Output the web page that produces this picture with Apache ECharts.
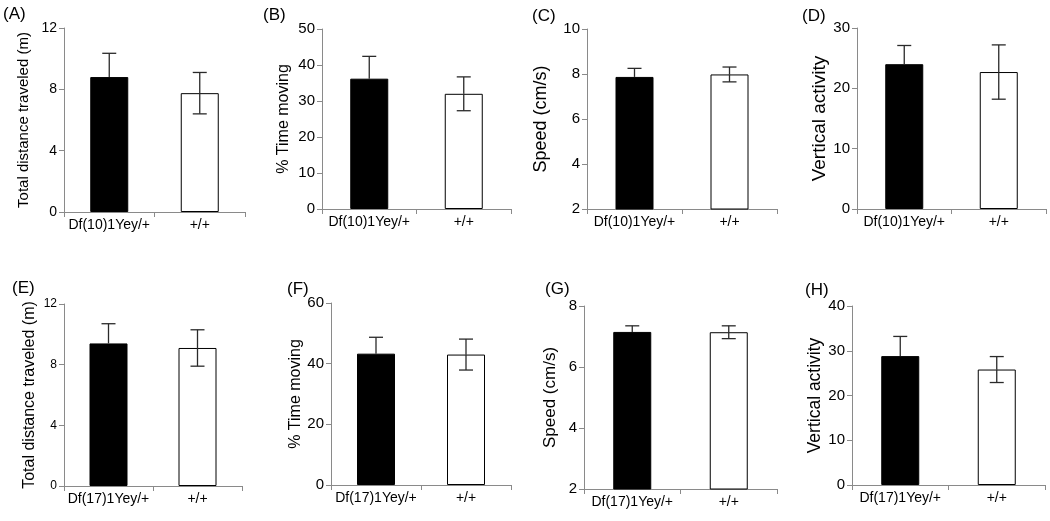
<!DOCTYPE html>
<html><head><meta charset="utf-8">
<script src="https://cdn.jsdelivr.net/npm/echarts@6/dist/echarts.min.js"></script>
<style>html,body{margin:0;padding:0;background:#fff}#c{width:1050px;height:521px}</style>
</head><body><div id="c"></div>
<script>
// ---- data ----
const catsTop = ['Df(10)1Yey/+', '+/+'];
const catsBottom = ['Df(17)1Yey/+', '+/+'];
const panelLetters = ['(A)', '(B)', '(C)', '(D)', '(E)', '(F)', '(G)', '(H)'];
const yTitles = ['Total distance traveled (m)', '% Time moving', 'Speed (cm/s)', 'Vertical activity',
                 'Total distance traveled (m)', '% Time moving', 'Speed (cm/s)', 'Vertical activity'];
const yMin = [0, 0, 2, 0, 0, 0, 2, 0];
const yMax = [12, 50, 10, 30, 12, 60, 8, 40];
const yStep = [4, 10, 2, 10, 4, 20, 2, 10];

const meanA = [8.8, 7.75];   const errA = [1.55, 1.35];
const meanB = [36.2, 32.0];  const errB = [6.2, 4.7];
const meanC = [7.87, 7.98];  const errC = [0.38, 0.33];
const meanD = [24.0, 22.7];  const errD = [3.1, 4.5];
const meanE = [9.4, 9.1];    const errE = [1.3, 1.2];
const meanF = [43.3, 43.0];  const errF = [5.4, 5.1];
const meanG = [7.15, 7.14];  const errG = [0.2, 0.21];
const meanH = [28.8, 25.8];  const errH = [4.4, 2.9];

const means = [meanA, meanB, meanC, meanD, meanE, meanF, meanG, meanH];
const errs = [errA, errB, errC, errD, errE, errF, errG, errH];

// ---- layout (pixels) ----
const grids = [
  {left: 64, top: 28, width: 181, height: 184},
  {left: 322, top: 29, width: 189, height: 180},
  {left: 587, top: 29, width: 190, height: 180},
  {left: 857, top: 28, width: 189, height: 181},
  {left: 64, top: 304, width: 178, height: 182},
  {left: 331, top: 303, width: 180, height: 182},
  {left: 584, top: 306, width: 193, height: 183},
  {left: 852, top: 306, width: 193, height: 179}
];
const nameGaps = [33, 30, 37, 25, 26, 27, 25, 28];
const nameSizes = [15, 16, 18, 19, 16, 16, 17, 17.5];
const tickSizes = [14, 15, 15, 15, 12, 15, 15, 15];
const letterPos = [[3, 6], [263, 7], [532, 8], [802, 8], [12, 280], [287, 281], [545, 281], [805, 282]];

const FONT = 'Liberation Sans, Arial, sans-serif';
const AXIS = '#8a8a8a';

const option = {
  backgroundColor: '#fff',
  animation: false,
  grid: grids.map(g => Object.assign({containLabel: false}, g)),
  xAxis: [], yAxis: [], series: [],
  graphic: panelLetters.map((t, i) => ({
    type: 'text', left: letterPos[i][0], top: letterPos[i][1],
    style: {text: t, font: '17px ' + FONT, fill: '#000'}
  }))
};

for (let i = 0; i < 8; i++) {
  const cats = i < 4 ? catsTop : catsBottom;
  option.xAxis.push({
    type: 'category', gridIndex: i, data: cats, boundaryGap: true,
    axisLine: {lineStyle: {color: AXIS, width: 1}},
    axisTick: {show: true, length: 5, lineStyle: {color: AXIS}},
    axisLabel: {color: '#000', fontFamily: FONT, fontSize: 14, margin: 6, interval: 0}
  });
  option.yAxis.push({
    type: 'value', gridIndex: i, min: yMin[i], max: yMax[i], interval: yStep[i],
    name: yTitles[i], nameLocation: 'middle', nameRotate: 90, nameGap: nameGaps[i],
    nameTextStyle: {color: '#000', fontFamily: FONT, fontSize: nameSizes[i]},
    axisLine: {show: true, lineStyle: {color: AXIS, width: 1}},
    axisTick: {show: true, length: 5, lineStyle: {color: AXIS}},
    axisLabel: {color: '#000', fontFamily: FONT, fontSize: tickSizes[i], margin: 7},
    splitLine: {show: false}
  });
  option.series.push({
    type: 'bar', xAxisIndex: i, yAxisIndex: i, barWidth: 38,
    data: means[i].map((v, k) => ({
      value: v,
      itemStyle: {color: k === 0 ? '#000' : '#fff', borderColor: '#000', borderWidth: 1}
    }))
  });
  const errData = means[i].map((v, k) => [k, v, errs[i][k]]);
  option.series.push({
    type: 'custom', xAxisIndex: i, yAxisIndex: i, z: 5,
    data: errData,
    renderItem: function (params, api) {
      const x = api.value(0), m = api.value(1), e = api.value(2);
      const hi = api.coord([x, m + e]);
      const lo = api.coord([x, m - e]);
      const mid = api.coord([x, m]);
      const cap = 7;
      const st = {stroke: '#2a2a2a', lineWidth: 1.3};
      const kids = [
        {type: 'line', shape: {x1: hi[0], y1: hi[1], x2: mid[0], y2: mid[1]}, style: st},
        {type: 'line', shape: {x1: hi[0] - cap, y1: hi[1], x2: hi[0] + cap, y2: hi[1]}, style: st}
      ];
      if (x !== 0) {
        kids.push({type: 'line', shape: {x1: mid[0], y1: mid[1], x2: lo[0], y2: lo[1]}, style: st});
        kids.push({type: 'line', shape: {x1: lo[0] - cap, y1: lo[1], x2: lo[0] + cap, y2: lo[1]}, style: st});
      }
      return {type: 'group', children: kids};
    }
  });
}

const chart = echarts.init(document.getElementById('c'), null, {renderer: 'canvas'});
chart.setOption(option);
</script>
</body></html>
